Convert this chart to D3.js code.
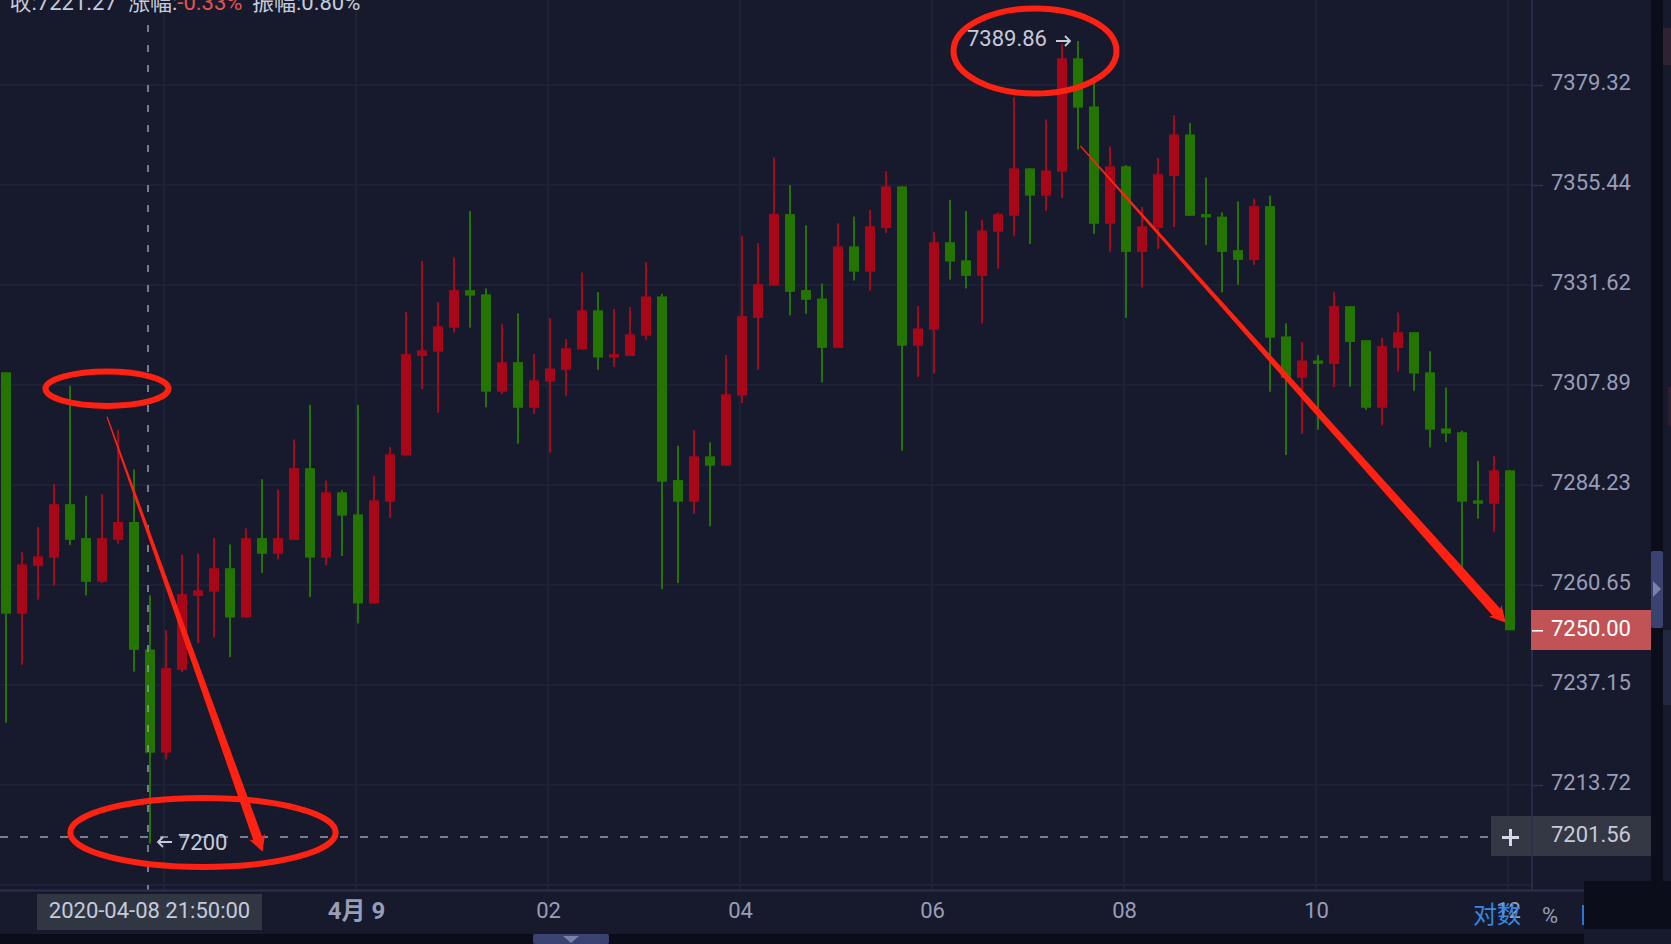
<!DOCTYPE html>
<html>
<head>
<meta charset="utf-8">
<script src="https://cdn.jsdelivr.net/npm/d3@7/dist/d3.min.js"></script>
<style>
html, body { margin: 0; padding: 0; background: #161a2c; overflow: hidden; }
svg { display: block; }
text { font-family: Roboto, "Noto Sans CJK SC", sans-serif; }
</style>
</head>
<body>
<div class="main-description"></div>
<script>
// 10 minute candles, first one at 2020-04-08 20:20
var candleOpen = [
	7310.9,7253.9,7265.1,7267.1,7279.7,7271.7,7261.4,7271.3,7275.5,7245.5,
	7221.3,7240.7,7258.1,7259.1,7264.6,7253.0,7271.7,7268.0,7271.3,7288.2,
	7267.1,7282.5,7277.3,7256.3,7280.3,7291.2,7314.8,7315.8,7321.5,7330.4,
	7329.4,7306.3,7313.3,7302.5,7308.7,7311.5,7316.3,7325.6,7314.4,7314.8,
	7319.6,7328.9,7285.4,7280.3,7291.0,7288.8,7305.4,7323.8,7331.5,7348.5,
	7330.4,7328.4,7316.7,7340.8,7334.8,7345.2,7355.1,7317.2,7321.0,7341.8,
	7337.5,7333.8,7344.3,7348.1,7359.4,7352.9,7358.6,7385.7,7374.2,7346.2,
	7359.9,7339.5,7345.2,7357.6,7367.5,7348.5,7347.9,7339.9,7337.6,7350.4,
	7319.4,7309.6,7313.7,7312.9,7326.6,7318.5,7302.5,7316.7,7320.4,7310.9,
	7297.6,7296.7,7280.6,7279.8,7287.7
];
var candleHigh = [
	7310.9,7268.4,7274.3,7284.5,7307.7,7281.7,7282.1,7297.2,7287.9,7258.2,
	7250.0,7267.8,7268.1,7271.8,7270.2,7274.0,7285.6,7283.2,7295.0,7303.2,
	7285.3,7283.0,7303.2,7286.4,7293.2,7325.2,7337.3,7327.6,7338.2,7349.2,
	7330.8,7322.3,7324.9,7315.2,7323.7,7318.8,7334.6,7329.9,7325.9,7326.4,
	7337.0,7329.5,7293.5,7297.2,7294.3,7315.0,7343.3,7341.6,7362.0,7355.4,
	7345.8,7332.0,7346.3,7347.9,7349.5,7358.7,7355.1,7326.6,7344.3,7351.9,
	7349.2,7347.1,7348.9,7376.4,7359.4,7371.1,7389.1,7389.86,7380.0,7364.6,
	7360.2,7350.2,7361.9,7372.1,7370.2,7357.2,7348.9,7351.5,7352.2,7352.9,
	7322.5,7318.1,7315.0,7329.9,7326.6,7318.5,7319.1,7325.1,7320.4,7315.9,
	7307.3,7297.1,7289.9,7291.1,7287.7
];
var candleLow = [
	7228.3,7241.9,7257.2,7260.6,7270.1,7258.2,7261.1,7270.4,7240.3,7200,
	7219.7,7240.2,7247.0,7248.3,7243.7,7253.0,7263.5,7266.7,7271.3,7257.8,
	7265.3,7267.5,7251.6,7256.3,7276.5,7291.0,7306.9,7301.3,7320.3,7321.5,
	7302.6,7305.7,7294.0,7301.0,7291.9,7305.3,7316.3,7311.5,7312.2,7314.8,
	7318.6,7259.7,7261.1,7277.4,7274.5,7288.8,7303.6,7311.5,7331.5,7324.4,
	7324.8,7308.5,7316.7,7332.7,7330.3,7344.0,7292.3,7309.8,7310.6,7332.9,
	7330.8,7322.5,7335.5,7343.2,7341.4,7349.3,7352.3,7363.9,7343.8,7339.5,
	7323.8,7331.0,7340.2,7345.4,7348.1,7341.2,7329.9,7331.7,7336.4,7306.3,
	7291.3,7296.3,7297.3,7307.4,7307.5,7302.0,7298.3,7311.1,7306.5,7293.1,
	7294.4,7264.2,7276.3,7273.2,7250
];
var candleClose = [
	7253.9,7265.5,7267.4,7279.7,7271.3,7261.4,7271.7,7275.5,7245.4,7221.27,
	7241.1,7258.5,7259.4,7264.6,7253.0,7271.7,7268.0,7271.7,7288.2,7267.1,
	7282.5,7277.0,7256.3,7280.6,7291.5,7315.2,7316.1,7321.8,7330.4,7329.1,
	7306.3,7313.3,7302.5,7309.0,7311.8,7316.6,7325.6,7314.4,7315.2,7319.9,
	7328.9,7285.0,7280.3,7291.0,7288.8,7305.7,7324.2,7331.8,7348.5,7330.0,
	7328.1,7316.7,7340.8,7334.8,7345.6,7355.1,7317.2,7321.3,7341.8,7337.2,
	7333.8,7344.6,7348.5,7359.4,7352.9,7358.9,7385.7,7373.9,7346.2,7359.9,
	7339.5,7345.6,7358.0,7367.5,7348.1,7347.7,7339.5,7337.6,7350.4,7319.1,
	7309.6,7313.7,7312.9,7326.6,7318.1,7302.5,7317.1,7320.4,7310.6,7297.3,
	7296.4,7280.3,7279.8,7287.7,7250
];
var priceTicks = [7379.32, 7355.44, 7331.62, 7307.89, 7284.23, 7260.65, 7237.15, 7213.72];
var priceGrid = priceTicks.concat([7190.4]);
var timeTicks = [
	new Date(2020, 3, 8, 22), new Date(2020, 3, 9, 0), new Date(2020, 3, 9, 2), new Date(2020, 3, 9, 4),
	new Date(2020, 3, 9, 6), new Date(2020, 3, 9, 8), new Date(2020, 3, 9, 10), new Date(2020, 3, 9, 12)
];
var timeLabels = ["22:00", "4月 9", "02", "04", "06", "08", "10", "12"];
var firstTime = new Date(2020, 3, 8, 20, 20);
var candleTimes = candleOpen.map(function(d, i) { return d3.timeMinute.offset(firstTime, i * 10); });
var crossTime = new Date(2020, 3, 8, 21, 50);
var crossPrice = 7201.56;
var lastPrice = 7250;
var maxPrice = 7389.86;
var minPrice = 7200;

var bg = '#161a2c', dark = '#0b0e1a', gridColor = '#1f2438', lineColor = '#2a3150';
var textColor = '#999db8', lightText = '#c6cadc', up = '#a8071a', down = '#247500', mark = '#ff2112';
var boxColor = '#333844', handle = '#3a4270', handleTri = '#7a82a8';
var fontSize = '22px';

var svg = d3.select('.main-description')
	.append('svg')
	.attr('width', 1671)
	.attr('height', 944);

var x = d3.scaleTime()
	.domain([candleTimes[0], candleTimes[candleTimes.length - 1]])
	.range([6, 1510]);
var y = d3.scaleLog()
	.domain([7213.72, 7379.32])
	.range([785, 85]);
var gridOffset = -2;

svg.append('rect').attr('width', 1671).attr('height', 944).attr('fill', bg);

// grid
svg.append('g')
	.attr('stroke', gridColor)
	.attr('stroke-width', 1.6)
	.selectAll('line')
	.data(priceGrid)
	.enter()
	.append('line')
	.attr('x1', 0)
	.attr('x2', 1532)
	.attr('y1', function(d) { return y(d); })
	.attr('y2', function(d) { return y(d); });
svg.append('g')
	.attr('stroke', gridColor)
	.attr('stroke-width', 1.6)
	.selectAll('line')
	.data(timeTicks)
	.enter()
	.append('line')
	.attr('x1', function(d) { return x(d) + gridOffset; })
	.attr('x2', function(d) { return x(d) + gridOffset; })
	.attr('y1', 0)
	.attr('y2', 890);

// candles
var candles = svg.append('g')
	.selectAll('g')
	.data(candleTimes)
	.enter()
	.append('g')
	.attr('fill', function(d, i) { return candleClose[i] >= candleOpen[i] ? up : down; });
candles.append('rect')
	.attr('x', function(d) { return x(d) - 1; })
	.attr('width', 2)
	.attr('y', function(d, i) { return y(candleHigh[i]); })
	.attr('height', function(d, i) { return y(candleLow[i]) - y(candleHigh[i]); });
candles.append('rect')
	.attr('x', function(d) { return x(d) - 5; })
	.attr('width', 10)
	.attr('y', function(d, i) { return y(Math.max(candleOpen[i], candleClose[i])); })
	.attr('height', function(d, i) { return Math.abs(y(candleOpen[i]) - y(candleClose[i])); });

// right side panel
svg.append('rect').attr('x', 1651).attr('y', 0).attr('width', 12).attr('height', 881).attr('fill', dark);
svg.append('rect').attr('x', 1663).attr('y', 28).attr('width', 8).attr('height', 37).attr('fill', '#2e2233');
svg.append('rect').attr('x', 1668).attr('y', 387).attr('width', 3).attr('height', 39).attr('fill', '#2a2030');
svg.append('rect').attr('x', 1663).attr('y', 630).attr('width', 8).attr('height', 75).attr('fill', '#222840');
svg.append('rect').attr('x', 1651).attr('y', 551).attr('width', 12).attr('height', 77).attr('rx', 2).attr('fill', handle);
svg.append('path').attr('d', 'M1653 581L1661 589L1653 597Z').attr('fill', handleTri);

// crosshair
svg.append('line')
	.attr('x1', x(crossTime) + gridOffset).attr('x2', x(crossTime) + gridOffset)
	.attr('y1', 25).attr('y2', 890)
	.attr('stroke', '#8d94a8').attr('stroke-width', 1.6)
	.attr('stroke-dasharray', '7 13');
svg.append('line')
	.attr('x1', 0).attr('x2', 1491)
	.attr('y1', y(crossPrice)).attr('y2', y(crossPrice))
	.attr('stroke', '#9a9fb0').attr('stroke-width', 1.6)
	.attr('stroke-dasharray', '8 12');

// axes
svg.append('line').attr('x1', 1532).attr('x2', 1532).attr('y1', 0).attr('y2', 890).attr('stroke', lineColor).attr('stroke-width', 1.6);
svg.append('line').attr('x1', 0).attr('x2', 1584).attr('y1', 890.5).attr('y2', 890.5).attr('stroke', lineColor).attr('stroke-width', 2);

var yAxis = d3.axisRight(y)
	.tickValues(priceTicks)
	.tickSize(11)
	.tickPadding(8)
	.tickFormat(d3.format('.2f'));
var yG = svg.append('g').attr('transform', 'translate(1532,0)').call(yAxis);
yG.select('.domain').remove();
yG.selectAll('line').attr('stroke', lineColor).attr('stroke-width', 1.6);
yG.selectAll('text')
	.attr('y', -3)
	.attr('fill', textColor)
	.style('font-size', fontSize);

var xAxis = d3.axisBottom(x)
	.tickValues(timeTicks)
	.tickSize(0)
	.tickFormat(function(d, i) { return timeLabels[i]; });
var xG = svg.append('g').attr('transform', 'translate(' + gridOffset + ',910)').call(xAxis);
xG.select('.domain').remove();
xG.selectAll('text')
	.attr('y', 0)
	.attr('dy', '0.36em')
	.attr('fill', textColor)
	.style('font-size', function(d, i) { return i == 1 ? '24px' : fontSize; })
	.style('font-weight', function(d, i) { return i == 1 ? 700 : 400; });

// last price and crosshair boxes
svg.append('rect').attr('x', 1531).attr('y', 610).attr('width', 120).attr('height', 40).attr('fill', '#c15357');
svg.append('line').attr('x1', 1532).attr('x2', 1543).attr('y1', y(lastPrice) + 0.5).attr('y2', y(lastPrice) + 0.5).attr('stroke', '#fff').attr('stroke-width', 1.6);
svg.append('text').attr('x', 1551).attr('y', y(lastPrice) - 1).attr('dy', '0.32em')
	.attr('fill', '#fff').style('font-size', fontSize).text(d3.format('.2f')(lastPrice));

svg.append('rect').attr('x', 1491).attr('y', 816).attr('width', 160).attr('height', 40).attr('fill', boxColor);
svg.append('line').attr('x1', 1532).attr('x2', 1532).attr('y1', 816).attr('y2', 856).attr('stroke', lineColor).attr('stroke-width', 1.6);
svg.append('path').attr('d', 'M1502 837.5H1519M1510.5 829V846').attr('stroke', '#d5d8e8').attr('stroke-width', 3).attr('fill', 'none');
svg.append('text').attr('x', 1551).attr('y', y(crossPrice) - 2).attr('dy', '0.32em')
	.attr('fill', lightText).style('font-size', fontSize).text(d3.format('.2f')(crossPrice));

svg.append('rect').attr('x', 37).attr('y', 894).attr('width', 225).attr('height', 36).attr('fill', boxColor).attr('opacity', 0.97);
svg.append('text').attr('x', x(crossTime) + gridOffset + 1.5).attr('y', 910).attr('dy', '0.36em').attr('text-anchor', 'middle')
	.attr('fill', lightText).style('font-size', fontSize).text('2020-04-08 21:50:00');

// bottom bar
svg.append('text').attr('x', 1473).attr('y', 923).attr('fill', '#3a86e0').style('font-size', '24px').text('对数');
svg.append('text').attr('x', 1550).attr('y', 923).attr('text-anchor', 'middle').attr('fill', textColor).style('font-size', '22px').text('%');
svg.append('rect').attr('x', 1582).attr('y', 905).attr('width', 2).attr('height', 20).attr('fill', '#2f74d0');
svg.append('rect').attr('x', 0).attr('y', 934).attr('width', 1584).attr('height', 10).attr('fill', dark);
svg.append('rect').attr('x', 1584).attr('y', 881).attr('width', 87).attr('height', 48).attr('fill', dark);
svg.append('text').attr('x', 1609).attr('y', 960).attr('fill', lightText).style('font-size', '22px').text('7250.00');
svg.append('rect').attr('x', 533).attr('y', 934).attr('width', 76).attr('height', 10).attr('rx', 2).attr('fill', handle);
svg.append('path').attr('d', 'M563 936H579L571 943Z').attr('fill', handleTri);

// header, cut by the top of the picture
var header = svg.append('text').attr('x', 9.5).attr('y', 10).attr('fill', lightText).style('font-size', fontSize);
header.append('tspan').text('收:7221.27');
header.append('tspan').attr('x', 128).text('涨幅:');
header.append('tspan').attr('fill', '#e5534f').text('-0.33%');
header.append('tspan').attr('x', 252).text('振幅:0.80%');

// high and low labels
svg.append('text').attr('x', 967).attr('y', y(maxPrice) - 2).attr('dy', '0.32em').attr('fill', lightText).style('font-size', fontSize).text(d3.format('.2f')(maxPrice));
svg.append('text').attr('x', 178).attr('y', y(minPrice) - 1).attr('dy', '0.32em').attr('fill', lightText).style('font-size', fontSize).text(minPrice);
svg.append('path').attr('d', 'M1056 41H1070M1065 36L1070 41L1065 46').attr('stroke', lightText).attr('stroke-width', 1.8).attr('fill', 'none');
svg.append('path').attr('d', 'M172 842H158M163 837L158 842L163 847').attr('stroke', lightText).attr('stroke-width', 1.8).attr('fill', 'none');

// hand drawn red marks
function ring(cx, cy, rx, ry, w) {
	svg.append('ellipse')
		.attr('cx', cx).attr('cy', cy).attr('rx', rx).attr('ry', ry)
		.attr('fill', 'none').attr('stroke', mark).attr('stroke-width', w);
}
function arrow(x0, y0, x1, y1, shaft) {
	var len = Math.sqrt((x1 - x0) * (x1 - x0) + (y1 - y0) * (y1 - y0));
	var ux = (x1 - x0) / len, uy = (y1 - y0) / len;
	var nx = -uy, ny = ux;
	var bx = x1 - ux * 16, by = y1 - uy * 16;
	var nb = 2; // barbs sit slightly behind the neck
	var pts = [
		[x0 - nx * 0.6, y0 - ny * 0.6],
		[bx + ux * nb - nx * shaft, by + uy * nb - ny * shaft],
		[bx - nx * 8.5, by - ny * 8.5],
		[x1, y1],
		[bx + nx * 8.5, by + ny * 8.5],
		[bx + ux * nb + nx * shaft, by + uy * nb + ny * shaft],
		[x0 + nx * 0.6, y0 + ny * 0.6]
	];
	svg.append('path').attr('d', d3.line()(pts) + 'Z').attr('fill', mark);
}
ring(107, 388.7, 61.5, 17.2, 6);
ring(203, 832.5, 132.7, 34.5, 6);
ring(1035, 51, 81.5, 42.5, 6);
arrow(107, 416.7, 262.5, 851.7, 4.8);
arrow(1080.4, 146, 1505.8, 622.7, 5.2);
</script>
</body>
</html>
